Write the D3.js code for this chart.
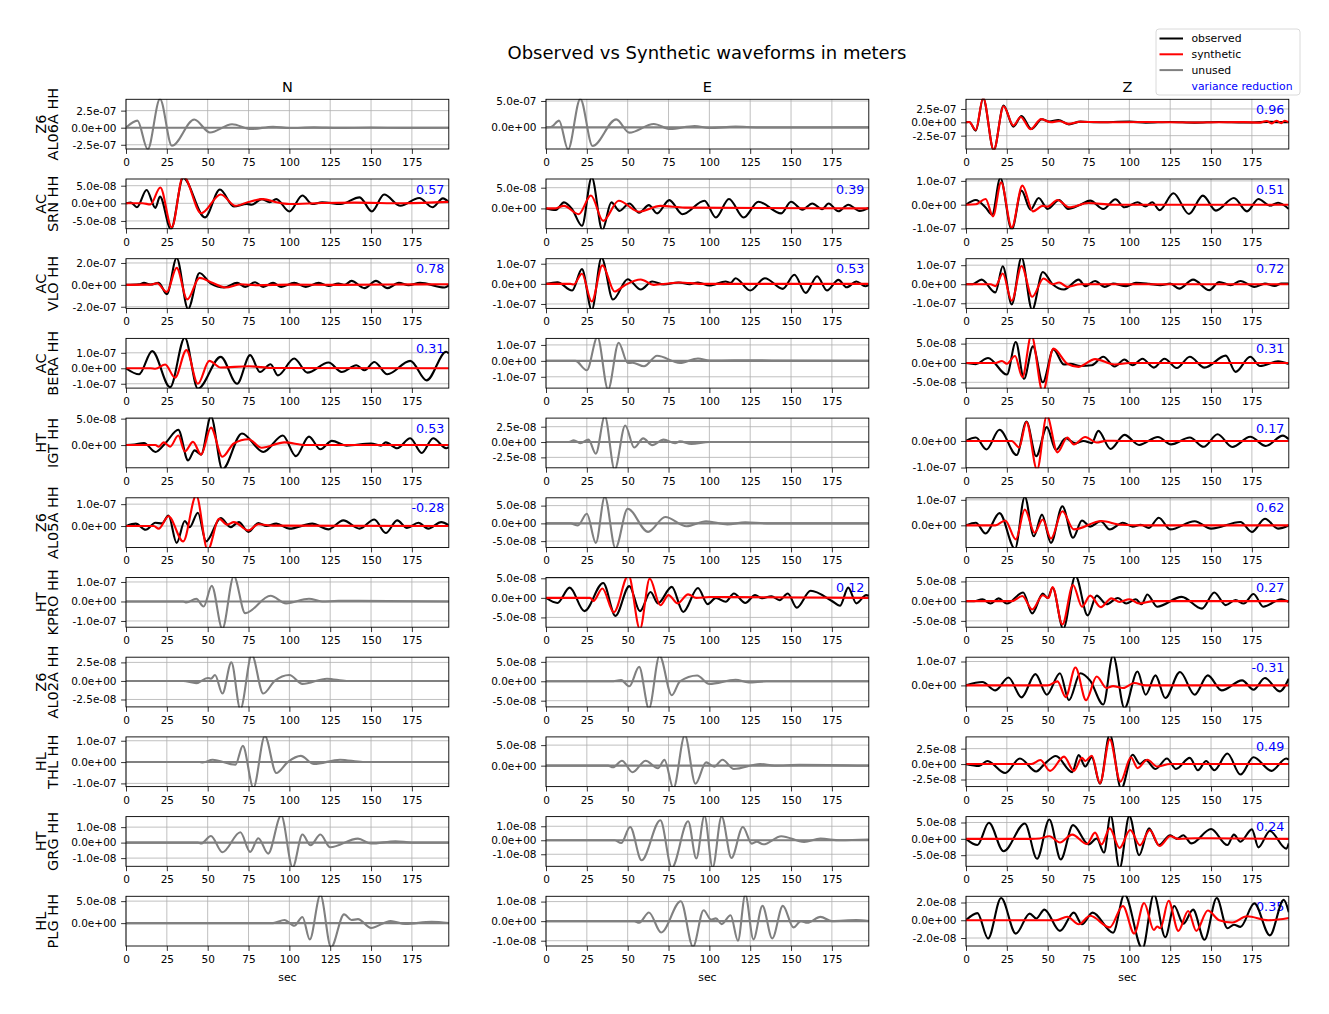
<!DOCTYPE html>
<html><head><meta charset="utf-8">
<script src="https://cdn.jsdelivr.net/npm/d3@7"></script>
<style>body{margin:0;background:#fff;} text{font-family:"DejaVu Sans",sans-serif;}</style>
</head><body><svg id="chart" width="1329" height="1014"></svg>
<script>
// ---------------- data (amplitudes in nanometres, time in seconds) ----------------
const components = ["N", "E", "Z"];
const networks = ["Z6","AC","AC","AC","HT","Z6","HT","Z6","HL","HT","HL"];
const stations = ["AL06A","SRN","VLO","BERA","IGT","AL05A","KPRO","AL02A","THL","GRG","PLG"];
const channel = "HH";
const xTicks = [0,25,50,75,100,125,150,175];
const xRange = [0, 197.6];
const used = [[0,0,1],[1,1,1],[1,1,1],[1,0,1],[1,0,1],[1,0,1],[0,1,1],[0,0,1],[0,0,1],[0,0,1],[0,0,1]];
const varianceReduction = [
  [null,null,"0.96"],["0.57","0.39","0.51"],["0.78","0.53","0.72"],["0.31",null,"0.31"],
  ["0.53",null,"0.17"],["-0.28",null,"0.62"],[null,"0.12","0.27"],[null,null,"-0.31"],
  [null,null,"0.49"],[null,null,"0.24"],[null,null,"0.35"]];
const yLimits = [
  [[-312,416],[-411,532],[-500,431]],
  [[-72,69],[-49,71],[-101,108]],
  [[-215,239],[-122,125],[-127,134]],
  [[-128,193],[-171,141],[-65,63.5]],
  [[-43,51],[-42,39],[-101,86]],
  [[-98,129],[-68,72],[-87,108]],
  [[-132,123],[-75,52],[-66,60]],
  [[-35,32],[-66,62],[-90,118]],
  [[-115,118],[-51,70],[-36.5,44]],
  [[-15.3,16.8],[-18.6,16.9],[-84,68]],
  [[-52,61],[-12.7,12.7],[-29,27]]];
const yTicks = [
  [[-250,0,250],[0,500],[-250,0,250]],
  [[-50,0,50],[0,50],[-100,0,100]],
  [[-200,0,200],[-100,0,100],[-100,0,100]],
  [[-100,0,100],[-100,0,100],[-50,0,50]],
  [[0,50],[-25,0,25],[-100,0]],
  [[0,100],[-50,0,50],[0,100]],
  [[-100,0,100],[-50,0,50],[-50,0,50]],
  [[-25,0,25],[-50,0,50],[0,100]],
  [[-100,0,100],[0,50],[-25,0,25]],
  [[-10,0,10],[-10,0,10],[-50,0,50]],
  [[0,50],[-10,0,10],[-20,0,20]]];
const legendLabels = ["observed","synthetic","unused"];
const vrLabel = "variance reduction";

// flat synthetic trace (unused components)
const flatZero = [[0,0],[197.6,0]];

// --- N component ---
const obs_AL06A_N = [[0,0],[7,103],[13.3,-316],[20.8,420],[28.1,-265],[41.8,120],[51.4,-70],[64.9,50],[76.5,-20],[90,15],[100,-5],[115,5],[130,-3],[150,2],[170,-2],[197.6,0]];
const obs_SRN_N = [[0,0],[3,2],[6.7,-11],[12.6,38],[18,-13],[20.8,19],[27.5,-74],[35,72],[48.3,-40],[57.5,39],[66,-9],[74,-2],[77,-4],[83,12],[88,3],[92,12],[100,-23],[108,22],[114,-2],[120,3],[131.5,-2],[143,17],[150.5,-23],[158,25],[168,-7],[179.5,15],[187.6,-11],[194,14],[197.6,3]];
const syn_SRN_N = [[0,0],[10,0],[15,-3],[21,45],[28,-68],[35,78],[46,-28],[58,25],[67,-7],[75,4],[84,12],[92,3],[100,-2],[120,1],[140,2],[170,0],[197.6,4]];
const obs_VLO_N = [[0,0],[8,5],[11,18],[15,3],[20,18],[25,-85],[31,245],[38,-220],[45,109],[52,12],[60,-24],[68,18],[73,-18],[79,24],[84,-18],[90,18],[95,-18],[103,18],[110,-18],[118,18],[124,-9],[130,12],[134,0],[138,36],[146,-30],[153,36],[160,-30],[167,18],[173,-3],[180,18],[195,-24],[197.6,-5]];
const syn_VLO_N = [[0,0],[15,2],[19,15],[25,-64],[31,155],[37.5,-133],[45,64],[52,24],[61,-24],[70,5],[80,-3],[100,2],[130,0],[160,3],[197.6,5]];
const obs_BERA_N = [[0,0],[8,-39],[16,111],[27,-122],[36,198],[44,-132],[58,74],[68,-100],[76,85],[82,-24],[88.5,26],[93,-46],[103,63],[111,-28],[124,37],[132,-24],[141,20],[146,-13],[152,41],[160,-39],[174,48],[184,-78],[196,107],[197.6,96]];
const syn_BERA_N = [[0,0],[15,0],[18,-3],[24,24],[30,-61],[37,117],[44,-100],[51,48],[58,5],[75,13],[90,2],[197.6,0]];
const obs_IGT_N = [[0,0],[5,1],[11,4],[18,-13],[24.5,5],[32,29],[38,-29],[42,-10],[46,-18],[52,54],[59,-46],[71,22],[84,-13],[96,18],[104,-21],[112,16],[119,-8],[126,8],[135,-1],[150,3],[156,-1],[159,5],[166,-6],[174,13],[181,-15],[188,13],[196,-6],[197.6,-4]];
const syn_IGT_N = [[0,0],[18,0],[20,-3],[23,5],[27,-3],[32,18],[36,-12],[41,6],[46,-18],[52,33],[59,-22],[66,3],[75,11],[83,-5],[97,5],[110,0],[197.6,0]];
const obs_AL05A_N = [[0,0],[6,11],[12,-17],[18,15],[22,12],[26,48],[31,-77],[36,23],[39,-5],[44,61],[49,-70],[58,36],[64,-5],[69,18],[75,-27],[81,14],[86,0],[92,11],[100,-12],[114,11],[124,-15],[133,26],[143,-12],[152,30],[159,-32],[166,26],[172,-9],[179,15],[185,-12],[193,18],[197.6,3]];
const syn_AL05A_N = [[0,0],[17,0],[20,-12],[26,45],[35,-70],[43,140],[50,-110],[57,33],[62,6],[66,18],[75,-20],[81,8],[90,2],[197.6,0]];
const obs_KPRO_N = [[0,0],[35,0],[37,-5],[43,14],[47.5,-26],[52.5,80],[59,-140],[66,130],[73,-60],[88.5,29],[98,-10],[112,14],[120,0],[130,3],[197.6,0]];
const obs_AL02A_N = [[0,0],[35,0],[43,-3],[50,4],[52,3],[54.5,8],[59,-17],[64.5,25],[70,-38],[77,35],[84,-17],[91,0],[100,8],[108,-4],[123,3],[135,0],[197.6,0]];
const obs_THL_N = [[0,0],[45,0],[47,-2],[53,11],[67,-12],[71.5,76],[78,-120],[85,122],[92,-51],[99,0],[107,29],[115,-9],[131,11],[145,0],[197.6,0]];
const obs_GRG_N = [[0,0],[44,0],[46,-0.6],[52,4.3],[59,-6.2],[70,6.7],[76,-6],[81,2.8],[87,-7.1],[95,17.5],[102,-16],[108,5.2],[113,-1.7],[119,5.2],[125,-3],[142,2.6],[150,-0.6],[165,0.9],[175,0],[197.6,0]];
const obs_PLG_N = [[0,0],[90,0],[97,7],[103,-6],[108,14],[112.5,-37],[119,64],[125.5,-55],[133.5,20],[138,7],[142,9],[150,-11],[162,5],[171,-2],[187,3],[197.6,0]];

// --- E component ---
const obs_AL06A_E = [[0,0],[3,5],[8,127],[13.5,-420],[21,540],[28.5,-354],[43,152],[51,-101],[66,63],[76,-32],[91,25],[100,-13],[116,13],[130,-3],[197.6,0]];
const obs_SRN_E = [[0,0],[6,-4],[11,14.5],[16,-2],[22,-42],[28,75],[34.5,-52],[40,14.5],[45,-6],[51,12],[57,-10.5],[63,8],[68,-12],[75.5,20],[83.5,-14],[97,18.5],[104,-22],[112,22.6],[121,-22],[130,16],[144,-12],[150,16],[157,-3],[163,12],[169,-2],[173,12],[179,-7],[185,9],[192,-6],[197.6,2]];
const syn_SRN_E = [[0,0],[5,0],[11,6],[20,-14],[27.5,31],[35,-30],[44.5,18.5],[57,-8],[70,6],[85,2],[197.6,0]];
const obs_VLO_E = [[0,0],[7,8],[16,-33],[22,73],[28,-130],[34,130],[41,-78],[50,23],[58,-28],[65,12],[72,-3],[81,7],[88,-2],[93,7],[100,-8],[110,12],[113,5],[116,28],[125,-33],[134,28],[145,-25],[152,45],[159,-45],[166,38],[172,-33],[179,20],[184,-17],[190,12],[195.5,-12],[197.6,-5]];
const syn_VLO_E = [[0,0],[15,0],[17,-3],[22,50],[28,-88],[34.5,92],[42,-38],[48,-8],[58,22],[66,-5],[75,2],[82,7],[95,0],[197.6,0]];
const obs_BERA_E = [[0,0],[18,0],[25,-59],[31.5,150],[38,-180],[44.5,114],[50,-13],[53,-12],[60,-34],[68,32],[82,-13],[93,15],[100,2],[115,3],[197.6,0]];
const obs_IGT_E = [[0,0],[14,0],[17,3],[21,-2],[26,4],[30.5,-19],[36,42],[42,-45],[48.5,27],[54,-9],[59.5,6],[65,-5],[72,4],[79,-2],[82,1],[89,-3],[100,0],[197.6,0]];
const obs_AL05A_E = [[0,0],[15,0],[19.5,-6],[25,27],[30.5,-55],[36,75],[42.5,-70],[50,41],[62.5,-24],[73,18],[86,-8],[98,6],[111,-3],[122,3],[135,0],[197.6,0]];
const obs_KPRO_E = [[0,0],[7,-13],[14.5,26],[23.5,-34],[35,38],[42.5,-46],[51,30],[57.5,-34],[64,15],[68.5,-14],[77,28],[84,-36],[93,25],[99,-16],[104,0],[110,-10],[115,11],[122,-13],[128,7],[132,-1],[138,4],[143,-6],[148,11],[153.5,-25],[162,18],[175,-8],[180,-20],[185,26],[190,-14],[196,7],[197.6,5]];
const syn_KPRO_E = [[0,0],[27,0],[29,-8],[34.5,24],[41.5,-37],[50.5,58],[57.5,-80],[63.5,49],[70,-19],[75,7],[80.5,-14],[87,9],[92,0],[100,2],[197.6,0]];
const obs_AL02A_E = [[0,0],[40,0],[46,3],[51,-13],[57,37],[63,-70],[69.5,66],[77,-36],[82,0],[92.5,15],[100,-7],[116,4],[124,-3],[135,0],[197.6,0]];
const obs_THL_E = [[0,0],[38,0],[41,-4],[46.5,12],[53,-16],[61,12],[68.5,-6.5],[72.5,14],[78,-55],[85,74],[91.5,-44],[98,8],[103,-2.4],[108,14.5],[115,-8],[131,4],[140,0],[155,2],[197.6,0]];
const obs_GRG_E = [[0,0],[42,0],[46,-2],[51.5,9.5],[58.5,-14.3],[70,14.3],[77,-19.5],[87,13.6],[92,-13],[97,17.5],[102,-19.5],[107.5,17],[113.5,-12.6],[120.5,9.5],[126,-2.4],[129,-1],[133,-2.9],[144,2.9],[158,-1.2],[168,1.2],[180,0],[197.6,0.5]];
const obs_PLG_E = [[0,0],[54,0],[57,-0.8],[63,4.4],[70.5,-5.8],[82.5,10.2],[90,-13],[96.5,5.6],[101,0.8],[104,1.4],[107.5,-1.5],[113,3],[117.5,-10],[122,13.5],[127,-9.3],[132.5,7.8],[138.5,-8.8],[145,7.8],[151.5,-3.2],[156,0],[160,-0.8],[168,2.2],[175,0],[190,0.5],[197.6,0]];

// --- Z component ---
const obs_AL06A_Z = [[0,0],[2,5],[6,-156],[10.5,450],[17,-520],[23,312],[29,-81],[34,119],[40,-125],[46.5,56],[51,12],[56.5,44],[63,-38],[70,12],[80,0],[100,12],[110,-5],[125,6],[140,-5],[155,6],[170,-3],[185,8],[197.6,0]];
const syn_AL06A_Z = [[0,0],[2,5],[6,-140],[10.5,460],[17,-520],[23,300],[29,-60],[33.5,100],[39.5,-130],[46,60],[52,0],[57,25],[63,-30],[70,10],[85,0],[110,5],[140,-3],[170,4],[180,-6],[184,25],[187,-20],[190,28],[193,-15],[195,30],[197.6,0]];
const obs_SRN_Z = [[0,0],[6,20],[12,-12],[16,-42],[21,112],[28,-105],[34,59],[39.5,-21],[44.5,28],[50,-18],[57,20],[62.5,-18],[70,0],[76,17],[84,-18],[91.5,23],[97,-11],[105,10],[110,-7],[114,10],[118.5,-23],[127,48],[136.5,-39],[145,38],[153,-25],[164,28],[172,-28],[179,24],[186,-4],[191,8],[197.6,-18]];
const syn_SRN_Z = [[0,0],[6,2],[12,24],[16.5,-49],[21.5,94],[28,-96],[34.5,80],[41,-28],[47,-5],[50,-8],[56,20],[63,-11],[75,7],[90,0],[197.6,0]];
const obs_VLO_Z = [[0,0],[4,0],[9.5,24],[18,-43],[22.5,94],[28,-106],[34,140],[40.5,-135],[47,64],[53,0],[60,-28],[69,24],[73,-10],[79,17],[85,-14],[90,3],[98,-10],[104,7],[112,2],[119,-5],[125,3],[130.5,-23],[139,24],[149,-31],[155,12],[162,-5],[168,17],[176.5,-14],[183,3],[189,-9],[193,3],[197.6,3]];
const syn_VLO_Z = [[0,0],[15,0],[18,-10],[22.5,56],[28,-87],[34,96],[40.5,-66],[47.5,30],[53,0],[57,9],[62,-14],[70,0],[197.6,0]];
const obs_BERA_Z = [[0,0],[6,-3],[13.5,13],[25,-30],[30.5,54],[35.5,-41],[41,43],[47,-50],[53.5,35],[60,-4],[64,-2],[70,-8],[77,-6],[84,16],[91,-9],[97,9],[102,-6],[108,11],[115,-12],[121.5,11],[129,-13],[137,16],[146,-12],[159,19],[165,-23],[174,16],[180,-8],[191,4],[197.6,-3]];
const syn_BERA_Z = [[0,0],[18,0],[22,5],[25,-2],[30,18],[34.5,-37],[40,72],[47,-75],[53.5,37],[62,-2],[69,-10],[79,10],[91,-4],[100,0],[197.6,0]];
const obs_IGT_Z = [[0,0],[6,13],[12.5,-32],[20.5,42],[31,-53],[37,73],[43,-57],[49.5,52],[55,-34],[61,10],[67,-9],[72,0],[77,-8],[81,38],[88.5,-30],[97,23],[106,-15],[117.5,15],[125.5,-13],[137,13],[145.5,-22],[154,25],[163,-23],[174,16],[183.5,-19],[194,20],[197.6,6]];
const syn_IGT_Z = [[0,0],[28,0],[32.5,-24],[37,71],[43.5,-108],[49.5,95],[56,-43],[62,13],[66,-13],[73,15],[80,-6],[86,1],[95,0],[197.6,0]];
const obs_AL05A_Z = [[0,0],[6,10],[12,-32],[20.5,48],[30,-92],[36,112],[41.5,-43],[46.5,42],[52,-69],[59,75],[65.5,-49],[71,19],[76,-5],[82.5,16],[88,-16],[96,10],[102,-5],[107,2],[112,-10],[118,30],[125,-16],[140,16],[150,-13],[168,13],[175,-26],[183,26],[191,-13],[197.6,0]];
const syn_AL05A_Z = [[0,0],[18,0],[24,19],[30.5,-55],[36,62],[42,-29],[47,23],[52,-52],[59,55],[66,-16],[83,17],[95,2],[110,0],[197.6,0]];
const obs_KPRO_Z = [[0,0],[5,0],[10,5],[15,-6],[20,7],[25,-6],[35,22],[40.5,-31],[47,19],[50,8],[53,34],[59.5,-70],[67,64],[74.5,-36],[80,14],[86,-8],[93,8],[98,-6],[104,5],[107.5,-8],[111,17],[117,-14],[132,11],[144.5,-19],[152,22],[159,-10],[165,3],[170,-6],[176,18],[182,-14],[193,5],[197.6,-2]];
const syn_KPRO_Z = [[0,0],[28,0],[34.5,13],[40.5,-21],[47,15],[50.5,8],[53,36],[59,-59],[65.5,41],[71,-14],[76,14],[82.5,-15],[89,7],[94,-2],[100,5],[106,-6],[115,0],[197.6,0]];
const obs_AL02A_Z = [[0,0],[10,14],[18,-21],[26,33],[34,-50],[42.5,47],[49.5,-39],[57.5,51],[63,-62],[70,51],[76,20],[84,-80],[90,125],[97,-95],[105,58],[110,-39],[116,42],[122,-53],[131,56],[140,-39],[148,42],[156.5,-21],[169,21],[176,-18],[183,31],[192,-25],[197.6,28]];
const syn_AL02A_Z = [[0,0],[50,0],[56,17],[61,-49],[67,75],[73.5,-62],[80,37],[86,-11],[90,-3],[96,-11],[103,10],[110,0],[197.6,0]];
const obs_THL_Z = [[0,0],[8,-3],[13,5],[24,-14.5],[33,9],[43,-12],[48,0],[55,13],[65,-13],[69,14.5],[73,-4],[77,11],[82,-32],[88,48],[95,-40],[102,15],[106.5,0],[110,6.5],[116,-8],[123,9],[128.5,-8],[137,10],[142,-10],[147,5],[152,-10],[160,17],[168,-17],[176,11],[187,-11],[196,9],[197.6,7]];
const syn_THL_Z = [[0,0],[40,0],[45.5,6.5],[51.5,-11],[60,12],[66,-11],[71,10],[73,5],[77,13.5],[82,-31],[88,40],[94.5,-28.5],[101,11],[105,-6.5],[111,7],[117,-4],[125,0],[197.6,0]];
const obs_GRG_Z = [[0,0],[7,-19],[14,49],[23,-38],[36,47],[43.5,-61],[51,59],[58,-63],[65.5,42],[75,-17],[80,1],[84.5,-42],[88.5,72],[94,-90],[100,70],[106,-50],[112,32],[118,-19],[125,11],[129,0],[133,11],[138,-14],[150,30],[160,-19],[164,13],[168,-9],[175,29],[179,-26],[186,24],[196,-30],[197.6,-14]];
const syn_GRG_Z = [[0,0],[40,0],[45,1],[51,8],[57.5,-11],[65,13],[74,-16],[79,19],[83,-17],[88,32],[94,-28],[100.5,27],[106.5,-20],[112.5,27],[118.5,-22],[125,8],[130,0],[140,2],[197.6,0]];
const obs_PLG_Z = [[0,0],[7,8],[13.5,-20.5],[21.5,25],[30.5,-15],[39,7.5],[43,2],[48,12],[57.5,-12],[66,8.6],[71,-4.5],[77.5,8.6],[90,-14],[97,29],[108,-32],[115,29],[122,-19],[127.5,16],[133,-4],[139,12],[146,-22],[153.5,25],[160,-9],[164,-5],[168,-7.5],[176.5,19],[186,-17],[194.5,23],[197.6,9]];
const syn_PLG_Z = [[0,0],[55,0],[62,4],[69,-4.5],[76,5],[88,-8],[96,16],[103,-15],[109,19.5],[115,-11],[117,-7],[119,-9],[124,22],[130,-12],[136,10.5],[141,-12],[148,11],[155,0],[163,-2.6],[172,4.5],[185,0],[197.6,2.6]];

const observed = [
  [obs_AL06A_N, obs_AL06A_E, obs_AL06A_Z],
  [obs_SRN_N, obs_SRN_E, obs_SRN_Z],
  [obs_VLO_N, obs_VLO_E, obs_VLO_Z],
  [obs_BERA_N, obs_BERA_E, obs_BERA_Z],
  [obs_IGT_N, obs_IGT_E, obs_IGT_Z],
  [obs_AL05A_N, obs_AL05A_E, obs_AL05A_Z],
  [obs_KPRO_N, obs_KPRO_E, obs_KPRO_Z],
  [obs_AL02A_N, obs_AL02A_E, obs_AL02A_Z],
  [obs_THL_N, obs_THL_E, obs_THL_Z],
  [obs_GRG_N, obs_GRG_E, obs_GRG_Z],
  [obs_PLG_N, obs_PLG_E, obs_PLG_Z]];
const synthetic = [
  [flatZero, flatZero, syn_AL06A_Z],
  [syn_SRN_N, syn_SRN_E, syn_SRN_Z],
  [syn_VLO_N, syn_VLO_E, syn_VLO_Z],
  [syn_BERA_N, flatZero, syn_BERA_Z],
  [syn_IGT_N, flatZero, syn_IGT_Z],
  [syn_AL05A_N, flatZero, syn_AL05A_Z],
  [flatZero, syn_KPRO_E, syn_KPRO_Z],
  [flatZero, flatZero, syn_AL02A_Z],
  [flatZero, flatZero, syn_THL_Z],
  [flatZero, flatZero, syn_GRG_Z],
  [flatZero, flatZero, syn_PLG_Z]];

// ---------------- layout & drawing ----------------
const svg = d3.select("#chart");
const colLeft = [126, 546, 966];
const panelW = 322.8, panelH = 49.7;
const rowTop = i => 99.3 + 79.7 * i;
const tickFont = 10.5;

function sciFmt(v) {
  const s = (v * 1e-9).toExponential(1);
  const [m, e] = s.split("e");
  const sign = e[0] === "-" ? "-" : "+";
  const digits = e.replace(/[+-]/, "").padStart(2, "0");
  return m + "e" + sign + digits;
}

svg.append("rect").attr("width", 1329).attr("height", 1014).attr("fill", "#fff");

svg.append("text").attr("x", 707).attr("y", 59).attr("text-anchor", "middle")
  .attr("font-size", 18).text("Observed vs Synthetic waveforms in meters");

components.forEach((c, j) => {
  svg.append("text").attr("x", colLeft[j] + panelW / 2).attr("y", 91.5)
    .attr("text-anchor", "middle").attr("font-size", 14.5).text(c);
});

const line = (x, y) => d3.line().x(d => x(d[0])).y(d => y(d[1])).curve(d3.curveMonotoneX);

stations.forEach((st, i) => {
  components.forEach((c, j) => {
    const x0 = colLeft[j], y0 = rowTop(i);
    const g = svg.append("g").attr("transform", `translate(${x0},${y0})`);
    const x = d3.scaleLinear().domain(xRange).range([0, panelW]);
    const y = d3.scaleLinear().domain(yLimits[i][j]).range([panelH, 0]);
    const clipId = `clip-${i}-${j}`;
    g.append("clipPath").attr("id", clipId).append("rect")
      .attr("x", 0).attr("y", -0.5).attr("width", panelW).attr("height", panelH + 1);

    // grid
    g.selectAll(".gx").data(xTicks).join("line")
      .attr("x1", d => x(d)).attr("x2", d => x(d)).attr("y1", 0).attr("y2", panelH)
      .attr("stroke", "#b0b0b0").attr("stroke-width", 0.8);
    g.selectAll(".gy").data(yTicks[i][j]).join("line").attr("class", "gyl")
      .attr("x1", 0).attr("x2", panelW).attr("y1", d => y(d)).attr("y2", d => y(d))
      .attr("stroke", "#b0b0b0").attr("stroke-width", 0.8);

    // variance reduction
    if (varianceReduction[i][j] !== null) {
      g.append("text").attr("x", panelW - 4.5).attr("y", 14.5).attr("text-anchor", "end")
        .attr("font-size", 12.7).attr("fill", "#0000ff").text(varianceReduction[i][j]);
    }

    const isUsed = used[i][j] === 1;
    const lp = line(x, y);
    g.append("path").datum(observed[i][j]).attr("d", lp).attr("clip-path", `url(#${clipId})`)
      .attr("fill", "none").attr("stroke", isUsed ? "#000000" : "#808080").attr("stroke-width", 2.1)
      .attr("stroke-linejoin", "round");
    g.append("path").datum(synthetic[i][j]).attr("d", lp).attr("clip-path", `url(#${clipId})`)
      .attr("fill", "none").attr("stroke", isUsed ? "#ff0000" : "#808080").attr("stroke-width", 2.1)
      .attr("stroke-linejoin", "round");

    // frame
    g.append("rect").attr("width", panelW).attr("height", panelH)
      .attr("fill", "none").attr("stroke", "#000").attr("stroke-width", 0.9);

    // axes
    const ax = g.append("g").attr("transform", `translate(0,${panelH})`)
      .call(d3.axisBottom(x).tickValues(xTicks).tickFormat(d3.format("d")).tickSize(4.9).tickPadding(4.6));
    const ay = g.append("g")
      .call(d3.axisLeft(y).tickValues(yTicks[i][j]).tickFormat(sciFmt).tickSize(4.9).tickPadding(4.6));
    [ax, ay].forEach(a => {
      a.select(".domain").remove();
      a.selectAll("line").attr("stroke", "#000").attr("stroke-width", 0.8);
      a.selectAll("text").attr("font-size", tickFont).attr("font-family", "DejaVu Sans").attr("fill", "#000");
    });

    // station label on first column
    if (j === 0) {
      const lab = svg.append("text").attr("font-size", 14.5).attr("text-anchor", "middle")
        .attr("transform", `translate(58.3,${y0 + panelH / 2}) rotate(-90)`);
      lab.append("tspan").attr("x", 0).attr("y", -12.4).text(networks[i]);
      lab.append("tspan").attr("x", 0).attr("y", 0).text(st + " " + channel);
    }
    if (i === stations.length - 1) {
      svg.append("text").attr("x", x0 + panelW / 2).attr("y", 981).attr("text-anchor", "middle")
        .attr("font-size", 10.8).text("sec");
    }
  });
});

// legend
const lg = svg.append("g").attr("transform", "translate(1156,29)");
lg.append("rect").attr("width", 144).attr("height", 66).attr("rx", 3).attr("ry", 3)
  .attr("fill", "#fff").attr("stroke", "#d6d6d6").attr("stroke-width", 0.9);
const legendColors = ["#000000", "#ff0000", "#808080"];
legendLabels.forEach((lab, k) => {
  const yy = 9.5 + k * 15.8;
  lg.append("line").attr("x1", 3.5).attr("x2", 27).attr("y1", yy).attr("y2", yy)
    .attr("stroke", legendColors[k]).attr("stroke-width", 2);
  lg.append("text").attr("x", 35.5).attr("y", yy + 3.9).attr("font-size", 10.8).text(lab);
});
lg.append("text").attr("x", 35.5).attr("y", 9.5 + 3 * 15.8 + 3.9).attr("font-size", 10.8)
  .attr("fill", "#0000ff").text(vrLabel);
</script>
</body></html>
